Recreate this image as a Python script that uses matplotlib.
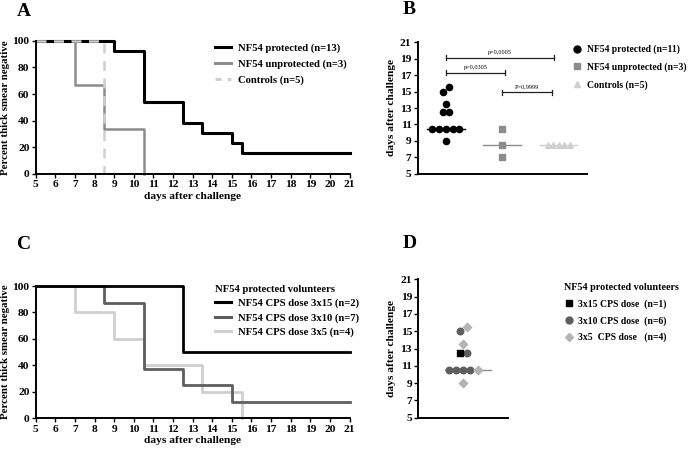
"""Four-panel figure: KM curves (A, C) and day-of-positivity dot plots (B, D)."""
import matplotlib.pyplot as plt
from matplotlib.lines import Line2D

plt.rcParams['font.family'] = ['Liberation Serif', 'DejaVu Serif']
plt.rcParams['font.weight'] = 'bold'
plt.rcParams['axes.labelweight'] = 'bold'

# ── Data ──────────────────────────────────────────────────────────────────
# panel A: Kaplan-Meier, percent thick smear negative
a_prot_t = [5, 9, 10.5, 12.5, 13.5, 15, 15.5, 21]
a_prot_s = [100, 92.3, 53.8, 38.5, 30.8, 23.1, 15.4, 15.4]
a_unprot_t = [5, 7, 8.5, 10.5]
a_unprot_s = [100, 66.7, 33.3, 0]
a_ctrl_t = [5, 8.5]
a_ctrl_s = [100, 0]
a_labels = ['NF54 protected (n=13)', 'NF54 unprotected (n=3)', 'Controls (n=5)']

# panel B: days after challenge per volunteer
b_prot = [15, 15.5, 13.5, 12.5, 12.5, 10.5, 10.5, 10.5, 10.5, 10.5, 9]
b_prot_off = [-0.06, 0.06, 0, -0.06, 0.06, -0.24, -0.12, 0, 0.12, 0.24, 0]
b_unprot = [10.5, 8.5, 7]
b_ctrl = [8.5, 8.5, 8.5, 8.5, 8.5]
b_ctrl_off = [-0.2, -0.1, 0, 0.1, 0.2]
b_medians = [10.5, 8.5, 8.5]
b_labels = ['NF54 protected (n=11)', 'NF54 unprotected (n=3)', 'Controls (n=5)']
b_pvals = ['p=0,0005', 'p=0,0305', 'P>0,9999']

# panel C: KM by dose
c_15_t = [5, 12.5, 21]
c_15_s = [100, 50, 50]
c_10_t = [5, 8.5, 10.5, 12.5, 15, 21]
c_10_s = [100, 87.5, 37.5, 25, 12.5, 12.5]
c_5_t = [5, 7, 9, 10.5, 13.5, 15.5]
c_5_s = [100, 80, 60, 40, 20, 0]
c_labels = ['NF54 CPS dose 3x15 (n=2)', 'NF54 CPS dose 3x10 (n=7)',
            'NF54 CPS dose 3x5 (n=4)']

# panel D: days after challenge by dose
d_15 = [12.5]
d_15_off = [-0.04]
d_10 = [15, 12.5, 10.5, 10.5, 10.5, 10.5]
d_10_off = [-0.04, 0.04, -0.16, -0.08, 0.0, 0.08]
d_5 = [15.5, 13.5, 10.5, 9]
d_5_off = [0.04, 0, 0.16, 0]
d_labels = ['3x15 CPS dose  (n=1)', '3x10 CPS dose  (n=6)', '3x5  CPS dose   (n=4)']

BLACK = '#000000'
GREY = '#8c8c8c'
LIGHT = '#cfcfcf'
DARK = '#5e5e5e'
DIAM = '#b4b4b4'

fig = plt.figure(figsize=(6.91, 4.5), dpi=100)
fig.patch.set_facecolor('white')


def style_axes(ax):
    for s in ('top', 'right'):
        ax.spines[s].set_visible(False)
    for s in ('left', 'bottom'):
        ax.spines[s].set_linewidth(1.4)
    ax.tick_params(direction='out', length=3, width=1, labelsize=8.2, pad=1.5)


# ── Panel A ───────────────────────────────────────────────────────────────
axA = fig.add_axes([0.0517, 0.614, 0.4541, 0.295])
axA.step(a_unprot_t, a_unprot_s, where='post', color=GREY, lw=1.8, clip_on=False)
axA.step(a_prot_t, a_prot_s, where='post', color=BLACK, lw=2.2, clip_on=False)
axA.step(a_ctrl_t, a_ctrl_s, where='post', color=LIGHT, lw=1.8, ls=(0, (4, 3)),
         clip_on=False)
axA.set_xlim(5, 21)
axA.set_ylim(0, 100)
axA.set_xticks(range(5, 22))
axA.set_yticks(range(0, 101, 20))
style_axes(axA)
axA.set_xlabel('days after challenge', fontsize=8.2, labelpad=2)
axA.set_ylabel('Percent thick smear negative', fontsize=7.8, labelpad=2)
hA = [Line2D([], [], color=BLACK, lw=2.2),
      Line2D([], [], color=GREY, lw=2.2),
      Line2D([], [], color=LIGHT, lw=2.2, ls=(0, (2, 2)))]
axA.legend(hA, a_labels, loc='upper left', bbox_to_anchor=(205 / 691, 1 - 34 / 450),
           bbox_transform=fig.transFigure, frameon=False, fontsize=7.7,
           handlelength=1.5, handletextpad=0.7, labelspacing=0.55)

# ── Panel B ───────────────────────────────────────────────────────────────
axB = fig.add_axes([0.6045, 0.614, 0.245, 0.292])
axB.scatter([0.5 + o for o in b_prot_off], b_prot, s=20, marker='o',
            color=BLACK, zorder=3)
axB.scatter([1.5] * len(b_unprot), b_unprot, s=20, marker='s', color=GREY,
            zorder=3)
axB.scatter([2.5 + o for o in b_ctrl_off], b_ctrl, s=16, marker='^',
            color=LIGHT, zorder=3)
for i, (m, c) in enumerate(zip(b_medians, [BLACK, GREY, LIGHT])):
    axB.plot([i + 0.16, i + 0.83], [m, m], color=c, lw=1, zorder=2)
# significance brackets
brackets = [(0.5, 2.42, 19.1), (0.5, 1.55, 17.3), (1.5, 2.38, 14.9)]
for (x0, x1, y), p in zip(brackets, b_pvals):
    axB.plot([x0, x1], [y, y], color='#222222', lw=0.9)
    axB.plot([x0, x0], [y - 0.3, y + 0.3], color='#222222', lw=0.9)
    axB.plot([x1, x1], [y - 0.3, y + 0.3], color='#222222', lw=0.9)
    axB.text((x0 + x1) / 2, y + 0.35, p, ha='center', va='bottom', fontsize=4.5,
             fontweight='normal')
axB.set_xlim(0, 3)
axB.set_ylim(5, 21)
axB.set_xticks([])
axB.set_yticks(range(5, 22, 2))
style_axes(axB)
axB.set_ylabel('days after challenge', fontsize=8.2, labelpad=3)
hB = [Line2D([], [], ls='', marker='o', ms=5, color=BLACK),
      Line2D([], [], ls='', marker='s', ms=4.5, color=GREY),
      Line2D([], [], ls='', marker='^', ms=4.5, color=LIGHT)]
axB.legend(hB, b_labels, loc='upper left', bbox_to_anchor=(564 / 691, 1 - 36 / 450),
           bbox_transform=fig.transFigure, frameon=False, fontsize=6.9,
           handlelength=1.0, handletextpad=0.45, labelspacing=0.85)

# ── Panel C ───────────────────────────────────────────────────────────────
axC = fig.add_axes([0.0517, 0.0704, 0.4541, 0.294])
axC.step(c_5_t, c_5_s, where='post', color=LIGHT, lw=2.0, clip_on=False)
axC.step(c_10_t, c_10_s, where='post', color=DARK, lw=2.0, clip_on=False)
axC.step(c_15_t, c_15_s, where='post', color=BLACK, lw=2.0, clip_on=False)
axC.set_xlim(5, 21)
axC.set_ylim(0, 100)
axC.set_xticks(range(5, 22))
axC.set_yticks(range(0, 101, 20))
style_axes(axC)
axC.set_xlabel('days after challenge', fontsize=8.2, labelpad=2)
axC.set_ylabel('Percent thick smear negative', fontsize=7.8, labelpad=2)
hC = [Line2D([], [], color=BLACK, lw=2.2),
      Line2D([], [], color=DARK, lw=2.2),
      Line2D([], [], color=LIGHT, lw=2.2)]
legC = axC.legend(hC, c_labels, loc='upper left',
                  bbox_to_anchor=(205 / 691, 1 - 275 / 450),
                  bbox_transform=fig.transFigure, frameon=False, fontsize=7.7,
                  handlelength=1.5, handletextpad=0.7, labelspacing=0.45,
                  title='NF54 protected volunteers', title_fontsize=7.7,
                  alignment='left')
legC.get_title().set_fontweight('bold')

# ── Panel D ───────────────────────────────────────────────────────────────
axD = fig.add_axes([0.6053, 0.0718, 0.1303, 0.3075])
axD.plot([0.3, 0.81], [10.5, 10.5], color=GREY, lw=1, zorder=2)
axD.scatter([0.5 + o for o in d_10_off], d_10, s=22, marker='o', color=DARK,
            zorder=3)
axD.scatter([0.5 + o for o in d_5_off], d_5, s=18, marker='D', color=DIAM,
            zorder=3)
axD.scatter([0.5 + o for o in d_15_off], d_15, s=22, marker='s', color=BLACK,
            zorder=4)
axD.set_xlim(0, 1)
axD.set_ylim(5, 21)
axD.set_xticks([])
axD.set_yticks(range(5, 22, 2))
style_axes(axD)
axD.set_ylabel('days after challenge', fontsize=8.2, labelpad=3)
hD = [Line2D([], [], ls='', marker='s', ms=4.5, color=BLACK),
      Line2D([], [], ls='', marker='o', ms=5, color=DARK),
      Line2D([], [], ls='', marker='D', ms=4.5, color=DIAM)]
legD = axD.legend(hD, d_labels, loc='upper left',
                  bbox_to_anchor=(555 / 691, 1 - 274 / 450),
                  bbox_transform=fig.transFigure, frameon=False, fontsize=7.0,
                  handlelength=1.0, handletextpad=0.5, labelspacing=0.75,
                  title='NF54 protected volunteers', title_fontsize=7.3,
                  alignment='left')
legD.get_title().set_fontweight('bold')

# ── Panel letters ─────────────────────────────────────────────────────────
for x, y, s in [(17, 12, 'A'), (403, 10, 'B'), (17, 245, 'C'), (403, 243, 'D')]:
    fig.text(x / 691, 1 - y / 450, s, fontsize=14, fontweight='bold',
             ha='left', va='center')

fig.savefig('out.png', dpi=100, facecolor='white')
